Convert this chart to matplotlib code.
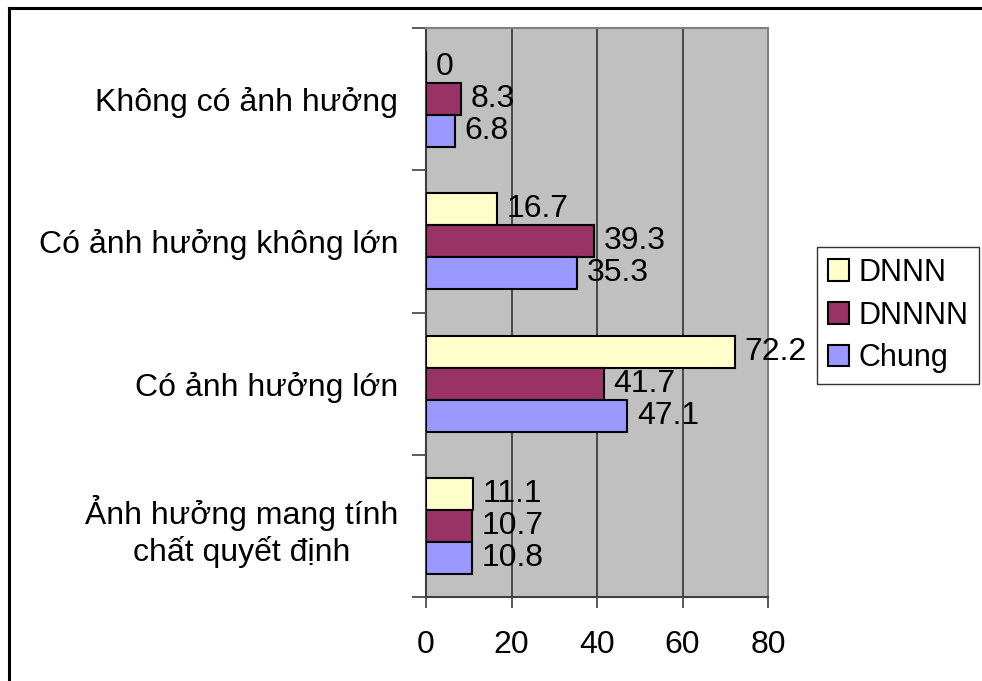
import numpy as np
import matplotlib.pyplot as plt
from matplotlib.lines import Line2D

plt.rcParams['font.family'] = ['Liberation Sans', 'DejaVu Sans']

# data (top to bottom as in the chart)
categories = ["Không có ảnh hưởng", "Có ảnh hưởng không lớn",
              "Có ảnh hưởng lớn", "Ảnh hưởng mang tính\nchất quyết định"]
series_names = ["DNNN", "DNNNN", "Chung"]
dnnn = [0, 16.7, 72.2, 11.1]
dnnnn = [8.3, 39.3, 41.7, 10.7]
chung = [6.8, 35.3, 47.1, 10.8]
colors = ["#FFFFCC", "#993366", "#9999FF"]

fig = plt.figure(figsize=(9.82, 6.81), dpi=100)
ax = fig.add_axes([426 / 982, 1 - 597 / 681, 342 / 982, 569 / 681])
ax.set_facecolor("#C0C0C0")

y = np.arange(len(categories))[::-1].astype(float)
h = 0.225
offsets = [h, 0, -h]
for vals, name, c, off in zip([dnnn, dnnnn, chung], series_names, colors, offsets):
    ax.barh(y + off, vals, height=h, color=c, edgecolor="black",
            linewidth=1.5, label=name, zorder=3)
    for yy, v in zip(y + off, vals):
        ax.text(v + 2.2, yy, f"{v:g}", va="center", ha="left", fontsize=23, zorder=4)

ax.set_xlim(0, 80)
ax.set_ylim(-0.5, 3.5)
ax.set_xticks([0, 20, 40, 60, 80])
ax.tick_params(axis="x", labelsize=23, length=8, width=1.2, color="#404040", pad=16)
ax.xaxis.grid(True, color="#333333", linewidth=1.2, zorder=1)

ax.set_yticks(y)
ax.set_yticklabels(categories, fontsize=23, ha="right", multialignment="center")
ax.tick_params(axis="y", length=0, pad=20)
ax.set_yticks([-0.5, 0.5, 1.5, 2.5, 3.5], minor=True)
ax.tick_params(axis="y", which="minor", length=10, width=1.2, color="#404040")

for s in ["top", "right"]:
    ax.spines[s].set_color("#808080")
    ax.spines[s].set_linewidth(1.5)
ax.spines["left"].set_color("#404040")
ax.spines["bottom"].set_color("#404040")
ax.spines["left"].set_linewidth(1.5)
ax.spines["bottom"].set_linewidth(1.5)

leg = fig.legend(loc="upper left", bbox_to_anchor=(817 / 982, 1 - 247 / 681),
                 fontsize=22, frameon=True, fancybox=False, handlelength=0.7,
                 handleheight=0.7, handletextpad=0.3, labelspacing=0.42,
                 borderpad=0.35, borderaxespad=0)
leg.get_frame().set_edgecolor("black")
leg.get_frame().set_linewidth(1.0)

# outer chart border
fig.add_artist(Line2D([9 / 982, 9 / 982], [0, 1 - 8 / 681], color="black", linewidth=2.2))
fig.add_artist(Line2D([9 / 982, 1], [1 - 8 / 681, 1 - 8 / 681], color="black", linewidth=2.2))

fig.savefig("out.png", dpi=100)
